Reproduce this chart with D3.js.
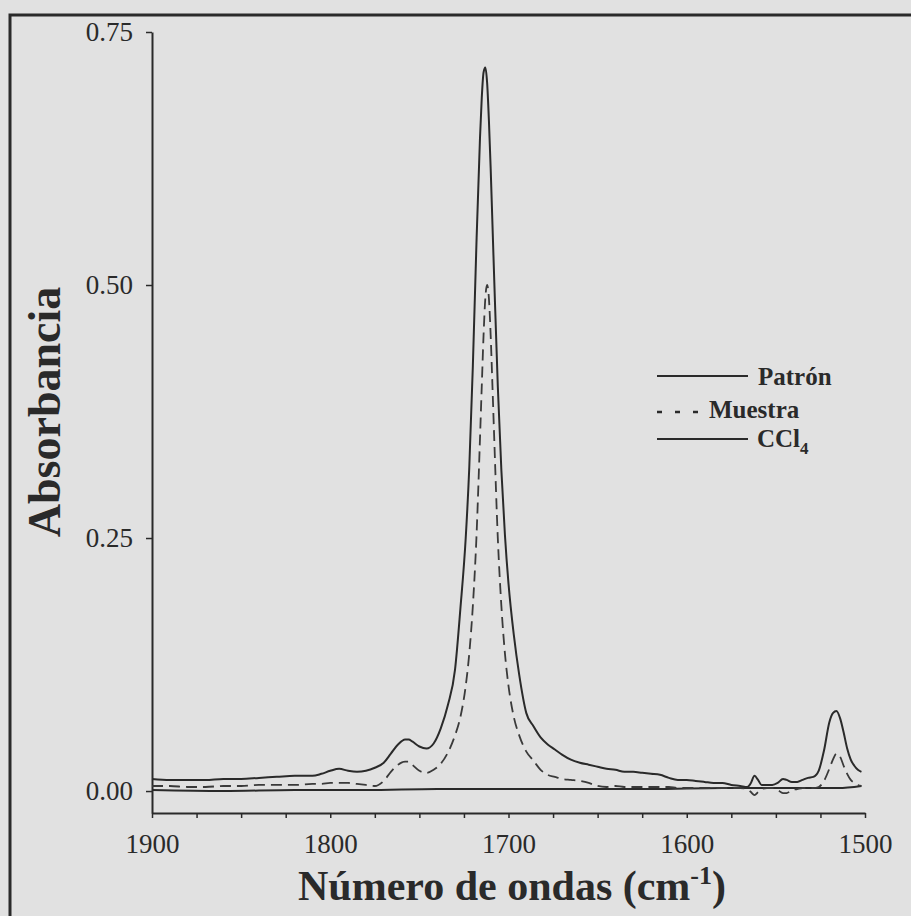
<!DOCTYPE html>
<html>
<head>
<meta charset="utf-8">
<script src="https://cdn.jsdelivr.net/npm/d3@7"></script>
<style>
  body { margin: 0; background: #e1e1e1; }
  svg { display: block; }
</style>
</head>
<body>
<div id="chart"></div>
<script>
// wavenumbers (cm-1) shared by Patrón and Muestra
const wavenumber = [1900,1890,1880,1870,1860,1850,1840,1830,1820,1810,1805,1800,1795,1790,1785,1780,1775,1770,1766,1762,1758,1756,1754,1750,1746,1742,1738,1734,1730,1727,1724,1722,1720,1718,1716,1715,1714,1713,1712,1711,1710,1709,1708,1706,1704,1702,1700,1697,1694,1690,1686,1682,1678,1674,1670,1665,1660,1655,1650,1645,1640,1635,1630,1625,1620,1615,1610,1605,1600,1595,1590,1585,1580,1575,1570,1566,1564,1562,1560,1558,1555,1552,1549,1546,1544,1541,1538,1535,1532,1529,1526,1523,1520,1518,1516,1514,1512,1510,1508,1506,1504,1502];
const patron = [0.012,0.011,0.011,0.011,0.012,0.012,0.013,0.014,0.015,0.015,0.017,0.020,0.022,0.020,0.019,0.020,0.023,0.028,0.037,0.046,0.051,0.051,0.049,0.044,0.042,0.047,0.062,0.085,0.120,0.180,0.250,0.320,0.420,0.540,0.645,0.685,0.710,0.715,0.700,0.663,0.615,0.560,0.505,0.400,0.317,0.253,0.205,0.154,0.115,0.077,0.064,0.053,0.046,0.041,0.036,0.031,0.028,0.026,0.024,0.022,0.021,0.019,0.019,0.018,0.017,0.016,0.013,0.011,0.011,0.010,0.009,0.008,0.008,0.006,0.005,0.004,0.008,0.015,0.011,0.006,0.006,0.006,0.008,0.012,0.011,0.009,0.009,0.011,0.013,0.014,0.020,0.040,0.068,0.077,0.079,0.072,0.058,0.042,0.031,0.025,0.021,0.019];
const muestra = [0.005,0.005,0.004,0.004,0.005,0.005,0.006,0.006,0.006,0.007,0.007,0.008,0.008,0.008,0.007,0.006,0.005,0.010,0.019,0.026,0.029,0.029,0.026,0.020,0.018,0.021,0.027,0.038,0.055,0.073,0.104,0.136,0.183,0.250,0.348,0.400,0.450,0.487,0.500,0.487,0.450,0.400,0.348,0.250,0.183,0.136,0.104,0.073,0.055,0.039,0.030,0.021,0.016,0.014,0.012,0.011,0.010,0.008,0.005,0.004,0.005,0.004,0.004,0.004,0.004,0.004,0.004,0.003,0.003,0.003,0.003,0.003,0.003,0.003,0.003,0.002,-0.001,-0.004,-0.001,0.002,0.003,0.003,0.001,-0.002,-0.002,0.001,0.002,0.003,0.003,0.003,0.004,0.010,0.022,0.031,0.037,0.034,0.025,0.017,0.011,0.008,0.006,0.005];

// solvent baseline
const ccl4Wave = [1900,1860,1820,1780,1740,1700,1660,1620,1580,1540,1515,1502];
const ccl4 = [0.001,0.000,0.001,0.001,0.002,0.002,0.002,0.002,0.003,0.003,0.003,0.005];

const xTickLabels = [1900, 1800, 1700, 1600, 1500];
const yTickLabels = [0, 0.25, 0.50, 0.75];
const seriesNames = ["Patrón", "Muestra", "CCl"];

const width = 911, height = 916;
const ink = '#2a2a2a';

const svg = d3.select('#chart').append('svg')
    .attr('width', width)
    .attr('height', height);

// scanned page frame (left + top edge)
svg.append('path')
    .attr('d', `M10,${height} L10,15 L${width},15`)
    .attr('fill', 'none')
    .attr('stroke', ink)
    .attr('stroke-width', 3);

const x = d3.scaleLinear().domain([1900, 1500]).range([152, 865]);
const y = d3.scaleLinear().domain([-0.0217, 0.75]).range([813, 32]);

const xAxis = d3.axisBottom(x)
    .tickValues(d3.range(1500, 1901, 25))
    .tickFormat(d => xTickLabels.includes(d) ? d : '')
    .tickSize(5)
    .tickSizeOuter(0);

const yAxis = d3.axisLeft(y)
    .tickValues(yTickLabels)
    .tickFormat(d3.format('.2f'))
    .tickSize(6)
    .tickSizeOuter(0);

const gx = svg.append('g')
    .attr('transform', 'translate(0,813)')
    .call(xAxis);
gx.select('.domain').attr('stroke', ink).attr('stroke-width', 2);
gx.selectAll('.tick line').attr('stroke', ink).attr('stroke-width', 1.5);
gx.selectAll('.tick text')
    .attr('fill', ink)
    .attr('y', 40)
    .attr('dy', 0)
    .style('font-family', '"Liberation Serif", serif')
    .style('font-size', '27px');

const gy = svg.append('g')
    .attr('transform', 'translate(152,0)')
    .call(yAxis);
gy.select('.domain').attr('stroke', ink).attr('stroke-width', 2);
gy.selectAll('.tick line').attr('stroke', ink).attr('stroke-width', 1.5);
gy.selectAll('.tick text')
    .attr('fill', ink)
    .attr('x', -19)
    .style('font-family', '"Liberation Serif", serif')
    .style('font-size', '27px');

// axis titles
svg.append('text')
    .attr('transform', 'translate(60,412) rotate(-90)')
    .attr('text-anchor', 'middle')
    .attr('fill', ink)
    .style('font-family', '"Liberation Serif", serif')
    .style('font-weight', 'bold')
    .style('font-size', '46px')
    .text('Absorbancia');

const xTitle = svg.append('text')
    .attr('x', 512)
    .attr('y', 900)
    .attr('text-anchor', 'middle')
    .attr('fill', ink)
    .style('font-family', '"Liberation Serif", serif')
    .style('font-weight', 'bold')
    .style('font-size', '42px');
xTitle.append('tspan').text('Número de ondas (cm');
xTitle.append('tspan').attr('dy', -16).style('font-size', '26px').text('-1');
xTitle.append('tspan').attr('dy', 16).text(')');

// curves
const line = d3.line()
    .x(d => x(d[0]))
    .y(d => y(d[1]))
    .curve(d3.curveMonotoneX);

svg.append('path')
    .datum(d3.zip(ccl4Wave, ccl4))
    .attr('fill', 'none')
    .attr('stroke', ink)
    .attr('stroke-width', 2)
    .attr('d', line);

svg.append('path')
    .datum(d3.zip(wavenumber, muestra))
    .attr('fill', 'none')
    .attr('stroke', '#3a3a3a')
    .attr('stroke-width', 1.8)
    .attr('stroke-dasharray', '11,6')
    .attr('d', line);

svg.append('path')
    .datum(d3.zip(wavenumber, patron))
    .attr('fill', 'none')
    .attr('stroke', ink)
    .attr('stroke-width', 2)
    .attr('d', line);

// legend
const legendFont = g => g
    .attr('fill', ink)
    .style('font-family', '"Liberation Serif", serif')
    .style('font-weight', 'bold')
    .style('font-size', '25px');

svg.append('line').attr('x1', 657).attr('x2', 748).attr('y1', 376).attr('y2', 376)
    .attr('stroke', ink).attr('stroke-width', 1.8);
svg.append('text').attr('x', 758).attr('y', 385).call(legendFont).text(seriesNames[0]);

svg.append('line').attr('x1', 657).attr('x2', 700).attr('y1', 412).attr('y2', 412)
    .attr('stroke', ink).attr('stroke-width', 2.5).attr('stroke-dasharray', '5,13');
svg.append('text').attr('x', 709).attr('y', 418).call(legendFont).text(seriesNames[1]);

svg.append('line').attr('x1', 657).attr('x2', 748).attr('y1', 439).attr('y2', 439)
    .attr('stroke', ink).attr('stroke-width', 1.8);
const ccl = svg.append('text').attr('x', 757).attr('y', 447).call(legendFont);
ccl.append('tspan').text(seriesNames[2]);
ccl.append('tspan').attr('dy', 7).style('font-size', '17px').text('4');
</script>
</body>
</html>
